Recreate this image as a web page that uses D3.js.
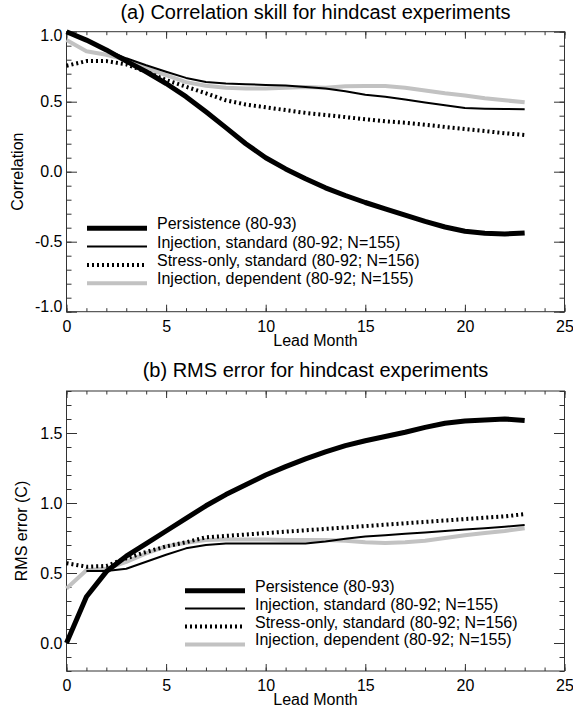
<!DOCTYPE html>
<html>
<head>
<meta charset="utf-8">
<script src="https://cdn.jsdelivr.net/npm/d3@7"></script>
<style>
  html, body { margin: 0; padding: 0; background: #fff; }
  svg { display: block; }
  text { font-family: "Liberation Sans", Arial, Helvetica, sans-serif; fill: #000; }
</style>
</head>
<body>
<svg id="chart" width="573" height="709"></svg>
<script>
// ---------------- DATA ----------------
const months = d3.range(0, 24);               // lead months 0..23
const xMajorTicks = [0, 5, 10, 15, 20, 25];
const xMinorTicks = d3.range(0, 26);

const seriesNames = [
  "Persistence (80-93)",
  "Injection, standard (80-92; N=155)",
  "Stress-only, standard (80-92; N=156)",
  "Injection, dependent (80-92; N=155)"
];

// (a) correlation skill
const corrPersistence = [1.00, 0.94, 0.87, 0.79, 0.714, 0.63, 0.536, 0.428, 0.315, 0.20, 0.10, 0.02,
  -0.05, -0.115, -0.17, -0.22, -0.265, -0.31, -0.355, -0.395, -0.425, -0.44, -0.445, -0.437];
const corrInjStd = [null, 0.94, 0.87, 0.81, 0.76, 0.714, 0.67, 0.64, 0.63, 0.625, 0.62, 0.615,
  0.605, 0.595, 0.575, 0.55, 0.535, 0.515, 0.495, 0.475, 0.455, 0.45, 0.448, 0.446];
const corrStress = [0.757, 0.79, 0.79, 0.767, 0.714, 0.655, 0.607, 0.56, 0.51, 0.48, 0.46, 0.44,
  0.42, 0.405, 0.39, 0.375, 0.36, 0.35, 0.335, 0.32, 0.305, 0.29, 0.275, 0.262];
const corrInjDep = [0.94, 0.86, 0.835, 0.80, 0.74, 0.69, 0.64, 0.614, 0.60, 0.595, 0.595, 0.60,
  0.605, 0.60, 0.61, 0.612, 0.612, 0.60, 0.58, 0.56, 0.545, 0.525, 0.51, 0.496];
const corrYDomain = [-1, 1];
const corrYMajor = [-1.0, -0.5, 0.0, 0.5, 1.0];
const corrYLabels = ["-1.0", "-0.5", "0.0", "0.5", "1.0"];
const corrYMinor = d3.range(-10, 11).map(v => v / 10);

// (b) RMS error
const rmsPersistence = [0.00, 0.33, 0.51, 0.62, 0.71, 0.80, 0.89, 0.98, 1.06, 1.13, 1.20, 1.26,
  1.315, 1.365, 1.41, 1.445, 1.475, 1.505, 1.54, 1.57, 1.585, 1.593, 1.60, 1.59];
const rmsInjStd = [null, 0.514, 0.514, 0.53, 0.58, 0.63, 0.676, 0.70, 0.71, 0.71, 0.71, 0.71,
  0.71, 0.725, 0.745, 0.76, 0.77, 0.78, 0.79, 0.80, 0.81, 0.82, 0.83, 0.843];
const rmsStress = [0.57, 0.545, 0.55, 0.605, 0.65, 0.69, 0.72, 0.755, 0.765, 0.775, 0.785, 0.795,
  0.805, 0.815, 0.825, 0.835, 0.845, 0.855, 0.865, 0.875, 0.885, 0.895, 0.905, 0.92];
const rmsInjDep = [0.39, 0.52, 0.53, 0.58, 0.64, 0.69, 0.716, 0.735, 0.74, 0.74, 0.74, 0.735,
  0.735, 0.735, 0.73, 0.72, 0.715, 0.72, 0.73, 0.75, 0.77, 0.785, 0.80, 0.82];
const rmsYDomain = [-0.2, 1.8];
const rmsYMajor = [0.0, 0.5, 1.0, 1.5];
const rmsYLabels = ["0.0", "0.5", "1.0", "1.5"];
const rmsYMinor = d3.range(-2, 19).map(v => v / 10);

// ---------------- STYLES ----------------
const styles = [
  { color: "#000", width: 5, dash: null },        // persistence
  { color: "#000", width: 2, dash: null },        // injection standard
  { color: "#000", width: 4, dash: "2,3" },       // stress-only
  { color: "#c2c2c2", width: 4, dash: null }      // injection dependent
];
const drawOrder = [3, 2, 1, 0];

const svg = d3.select("#chart");

function panel(cfg) {
  const left = 66.5, right = 564.5;
  const x = d3.scaleLinear().domain([0, 25]).range([left, right]);
  const y = d3.scaleLinear().domain(cfg.yDomain).range([cfg.bottom, cfg.top]);
  const g = svg.append("g");

  // title
  g.append("text").attr("x", (left + right) / 2).attr("y", cfg.titleY)
    .attr("text-anchor", "middle").style("font-size", "20px").text(cfg.title);

  // frame
  g.append("rect").attr("x", left).attr("y", cfg.top)
    .attr("width", right - left).attr("height", cfg.bottom - cfg.top)
    .attr("fill", "none").attr("stroke", "#333").attr("stroke-width", 1);

  const styleAxis = sel => {
    sel.select(".domain").remove();
    sel.selectAll("line").attr("stroke", "#333");
    sel.selectAll("text").style("font-size", "16px").style("font-family", '"Liberation Sans", Arial, sans-serif').attr("fill", "#000");
  };

  // x axes
  g.append("g").attr("transform", `translate(0,${cfg.bottom})`)
    .call(d3.axisBottom(x).tickValues(xMinorTicks).tickSize(-3.5).tickFormat(""))
    .call(styleAxis);
  g.append("g").attr("transform", `translate(0,${cfg.bottom})`)
    .call(d3.axisBottom(x).tickValues(xMajorTicks).tickSize(-7).tickPadding(8.5).tickFormat(d3.format("d")))
    .call(styleAxis);
  g.append("g").attr("transform", `translate(0,${cfg.top})`)
    .call(d3.axisTop(x).tickValues(xMinorTicks).tickSize(-3.5).tickFormat(""))
    .call(styleAxis);
  g.append("g").attr("transform", `translate(0,${cfg.top})`)
    .call(d3.axisTop(x).tickValues(xMajorTicks).tickSize(-7).tickFormat(""))
    .call(styleAxis);

  // y axes
  g.append("g").attr("transform", `translate(${left},0)`)
    .call(d3.axisLeft(y).tickValues(cfg.yMinor).tickSize(-5).tickFormat(""))
    .call(styleAxis);
  const yl = g.append("g").attr("transform", `translate(${left},0)`)
    .call(d3.axisLeft(y).tickValues(cfg.yMajor).tickSize(-10.5).tickPadding(4)
      .tickFormat((d, i) => cfg.yLabels[i]))
    .call(styleAxis);
  // end labels sit just inside the frame, as in the original plot
  yl.selectAll(".tick text").attr("y", d => {
    const dom = y.domain();
    if (d === dom[1]) return 4;
    if (d === dom[0]) return -5;
    return 0;
  });
  g.append("g").attr("transform", `translate(${right},0)`)
    .call(d3.axisRight(y).tickValues(cfg.yMinor).tickSize(-5).tickFormat(""))
    .call(styleAxis);
  g.append("g").attr("transform", `translate(${right},0)`)
    .call(d3.axisRight(y).tickValues(cfg.yMajor).tickSize(-10.5).tickFormat(""))
    .call(styleAxis);

  // axis labels
  g.append("text").attr("x", (left + right) / 2).attr("y", cfg.bottom + 34)
    .attr("text-anchor", "middle").style("font-size", "16px").text("Lead Month");
  const yMid = (cfg.top + cfg.bottom) / 2;
  g.append("text").attr("transform", `translate(${cfg.yLabelX},${yMid}) rotate(-90)`)
    .attr("text-anchor", "middle").style("font-size", "16px").text(cfg.yLabel);

  // lines
  const line = d3.line()
    .defined(d => d != null)
    .x((d, i) => x(months[i]))
    .y(d => y(d));
  drawOrder.forEach(k => {
    const s = styles[k];
    g.append("path").datum(cfg.series[k])
      .attr("d", line)
      .attr("fill", "none")
      .attr("stroke", s.color)
      .attr("stroke-width", s.width)
      .attr("stroke-dasharray", s.dash)
      .attr("stroke-linejoin", "round");
  });

  // legend
  seriesNames.forEach((name, k) => {
    const s = styles[k];
    const ly = cfg.legY + k * cfg.legStep;
    g.append("line")
      .attr("x1", cfg.legX).attr("x2", cfg.legX + 60)
      .attr("y1", ly).attr("y2", ly)
      .attr("stroke", s.color).attr("stroke-width", s.width)
      .attr("stroke-dasharray", s.dash);
    g.append("text").attr("x", cfg.legX + 70).attr("y", ly + 1)
      .style("font-size", "16px").text(name);
  });
}

panel({
  title: "(a) Correlation skill for hindcast experiments",
  titleY: 19,
  top: 31.7, bottom: 311.7,
  yDomain: corrYDomain, yMajor: corrYMajor, yLabels: corrYLabels, yMinor: corrYMinor,
  yLabel: "Correlation", yLabelX: 23,
  series: [corrPersistence, corrInjStd, corrStress, corrInjDep],
  legX: 87, legY: 228.3, legStep: 18.3
});

panel({
  title: "(b) RMS error for hindcast experiments",
  titleY: 377,
  top: 391, bottom: 671,
  yDomain: rmsYDomain, yMajor: rmsYMajor, yLabels: rmsYLabels, yMinor: rmsYMinor,
  yLabel: "RMS error (C)", yLabelX: 27,
  series: [rmsPersistence, rmsInjStd, rmsStress, rmsInjDep],
  legX: 185, legY: 590.7, legStep: 17.9
});
</script>
</body>
</html>
